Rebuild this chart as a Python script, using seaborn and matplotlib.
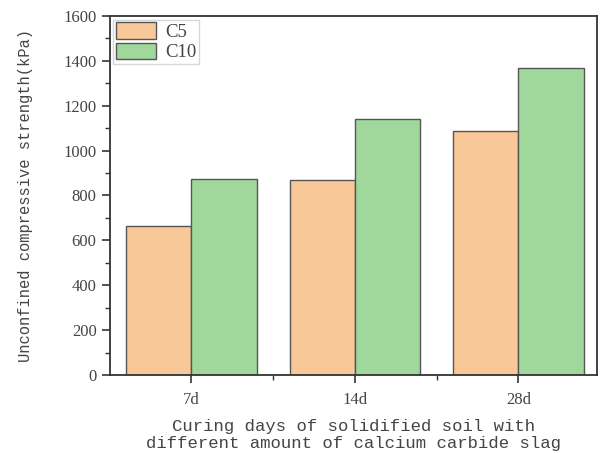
import matplotlib
matplotlib.use("Agg")
import matplotlib.pyplot as plt
from matplotlib.ticker import MultipleLocator, FixedLocator
import seaborn as sns
import pandas as pd

categories = ["7d", "14d", "28d"]
series_names = ["C5", "C10"]
c5_values = [664, 870, 1089]
c10_values = [874, 1142, 1369]
colors = ["#F9C899", "#A0D89B"]

df = pd.DataFrame({
    "day": categories * 2,
    "group": [series_names[0]] * 3 + [series_names[1]] * 3,
    "value": c5_values + c10_values,
})

sns.set_theme(style="ticks")
plt.rcParams["font.family"] = ["Liberation Serif", "DejaVu Serif"]

fig = plt.figure(figsize=(6.03, 4.53), dpi=100)
ax = fig.add_axes([0.182, 0.172, 0.808, 0.793])

sns.barplot(data=df, x="day", y="value", hue="group", order=categories,
            hue_order=series_names, palette=colors, width=0.8,
            edgecolor="#555555", linewidth=1.0, saturation=1, ax=ax)

ax.set_xlim(-0.5, 2.48)
ax.set_ylim(0, 1600)
ax.yaxis.set_major_locator(MultipleLocator(200))
ax.yaxis.set_minor_locator(MultipleLocator(100))
ax.xaxis.set_minor_locator(FixedLocator([0.5, 1.5]))

for s in ax.spines.values():
    s.set_linewidth(1.3)
    s.set_color("#333333")
ax.tick_params(which="major", direction="out", length=6, width=1.2, color="#333333",
               labelsize=12, labelcolor="#444444")
ax.tick_params(which="minor", direction="out", length=3.5, width=1.0, color="#333333")
ax.tick_params(axis="x", which="major", pad=6)

mono = ["Liberation Mono", "DejaVu Sans Mono"]
ax.set_xlabel("Curing days of solidified soil with\ndifferent amount of calcium carbide slag",
              fontsize=12.4, family=mono, color="#444444", labelpad=8, linespacing=1.2)
ax.set_ylabel("Unconfined compressive strength(kPa)", fontsize=11.2, family=mono,
              color="#444444", labelpad=22)

leg = ax.legend(loc="upper left", fontsize=13.5, frameon=True, fancybox=False,
                handlelength=2.1, handleheight=0.95, handletextpad=0.5,
                borderpad=0.15, labelspacing=0.1, borderaxespad=0.2,
                title=None)
leg.get_frame().set_edgecolor("#cccccc")
leg.get_frame().set_linewidth(1.0)
for t in leg.get_texts():
    t.set_color("#444444")

fig.savefig("out.png", dpi=100)
